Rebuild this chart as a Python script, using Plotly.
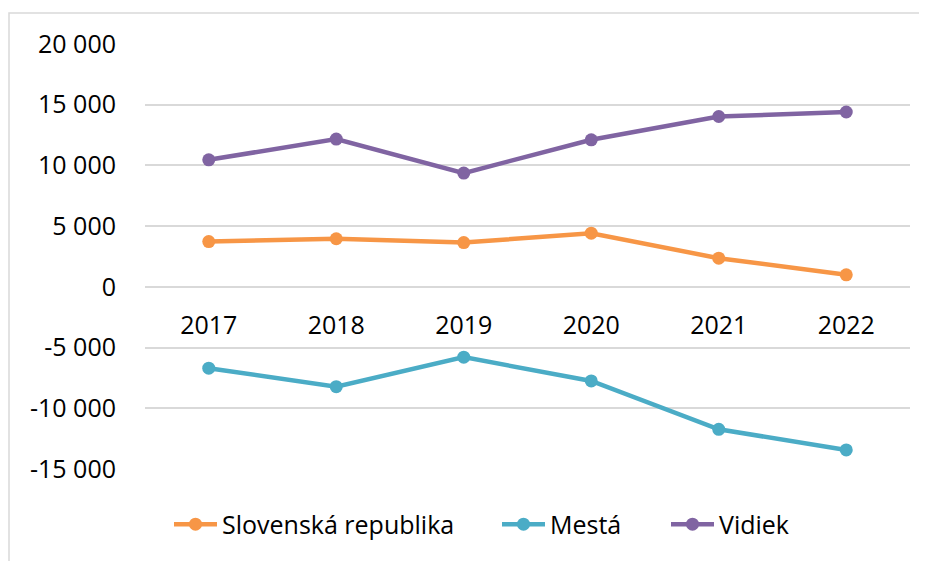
import plotly.graph_objects as go

years = ["2017", "2018", "2019", "2020", "2021", "2022"]
slovenska = [3730, 3960, 3650, 4420, 2360, 990]
mesta = [-6700, -8220, -5790, -7750, -11730, -13430]
vidiek = [10460, 12170, 9370, 12110, 14030, 14400]

y_tickvals = [-15000, -10000, -5000, 0, 5000, 10000, 15000, 20000]
y_ticktext = ["-15 000", "-10 000", "-5 000", "0", "5 000", "10 000", "15 000", "20 000"]

names = ["Slovenská republika", "Mestá", "Vidiek"]
values = [slovenska, mesta, vidiek]
colors = ["#F79646", "#4BACC6", "#8064A2"]

FONT = "Open Sans, Noto Sans, DejaVu Sans, sans-serif"

# page body has an 8px margin; lay out in figure coordinates
W, H = 919, 553
L, R, T, B = 137, 17, 36, 91.5
pw = W - L - R
ph = H - T - B
ymin, ymax = -15000, 20000
zero_pos = (0 - ymin) / (ymax - ymin)

legend_ids = ["legend", "legend2", "legend3"]
legend_left_px = [161, 489, 658]
legend_y = (H - B - 517) / ph

fig = go.Figure()
for name, vals, col, lid in zip(names, values, colors, legend_ids):
    fig.add_trace(go.Scatter(
        x=years, y=vals, name=name, mode="lines+markers",
        line=dict(color=col, width=4.5),
        marker=dict(color=col, size=13),
        legend=lid,
    ))

legend_common = dict(
    orientation="h", xanchor="left", y=legend_y, yanchor="middle",
    font=dict(family=FONT, size=25, color="#000000"),
    bgcolor="rgba(0,0,0,0)", itemwidth=43,
)

layout_legends = {}
for lid, lx in zip(legend_ids, legend_left_px):
    layout_legends[lid] = dict(legend_common, x=(lx - L) / pw)

fig.update_layout(
    width=W, height=H,
    margin=dict(l=L, r=R, t=T, b=B, autoexpand=False),
    paper_bgcolor="white", plot_bgcolor="white",
    font=dict(family=FONT, size=25, color="#000000"),
    showlegend=True,
    xaxis=dict(
        type="category", anchor="free", position=zero_pos,
        showgrid=False, showline=False, zeroline=False,
        ticks="", tickfont=dict(family=FONT, size=25, color="#000000"),
        ticklabelstandoff=21,
        range=[-0.5, len(years) - 0.5],
    ),
    yaxis=dict(
        range=[ymin, ymax], tickvals=y_tickvals, ticktext=y_ticktext,
        showgrid=True, gridcolor="#D9D9D9", gridwidth=1.5,
        zeroline=False, showline=False, ticks="",
        tickfont=dict(family=FONT, size=25, color="#000000"),
        ticklabelstandoff=28,
    ),
    shapes=[
        dict(type="rect", xref="paper", yref="paper",
             x0=(1 - L) / pw, x1=(W + 20 - L) / pw,
             y0=-(B + 20) / ph, y1=(H - B - 5) / ph,
             line=dict(color="#D9D9D9", width=1.5), fillcolor="rgba(0,0,0,0)",
             layer="below"),
    ],
    **layout_legends,
)

fig.write_html("out.html")
